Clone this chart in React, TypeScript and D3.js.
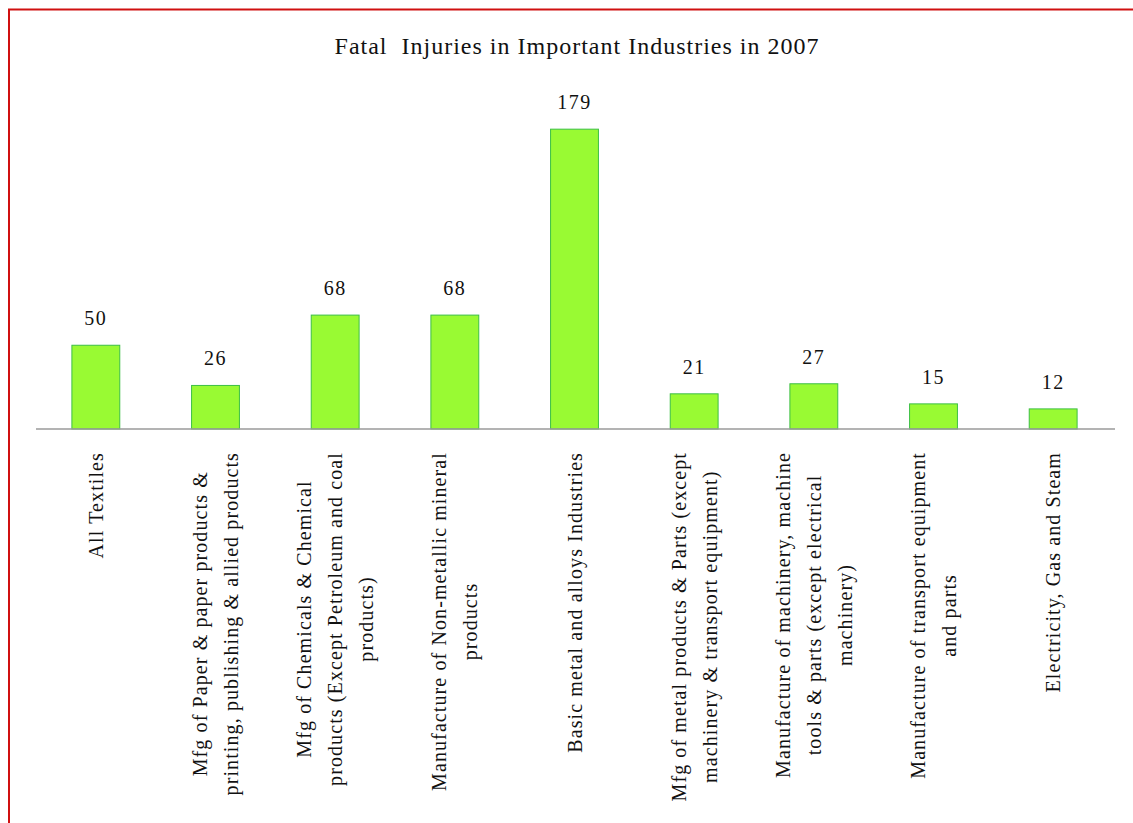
import * as d3 from 'd3'
import { useEffect, useRef } from 'react'

const categories: string[][] = [
    ['All Textiles'],
    ['Mfg of Paper & paper products &', 'printing, publishing & allied products'],
    ['Mfg of Chemicals & Chemical', 'products (Except Petroleum and coal', 'products)'],
    ['Manufacture of Non-metallic mineral', 'products'],
    ['Basic metal and alloys Industries'],
    ['Mfg of metal products & Parts (except', 'machinery & transport equipment)'],
    ['Manufacture of machinery, machine', 'tools & parts (except electrical', 'machinery)'],
    ['Manufacture of transport equipment', 'and parts'],
    ['Electricity, Gas and Steam'],
]
const fatalities: number[] = [50, 26, 68, 68, 179, 21, 27, 15, 12]
const title = 'Fatal  Injuries in Important Industries in 2007'

const W = 1133
const H = 823
const baseY = 429
const font = '"Liberation Serif", "Times New Roman", serif'

export default function App() {
    const svgRef = useRef<SVGSVGElement>(null)

    useEffect(() => {
        const svg = d3.select(svgRef.current)
        svg.selectAll('*').remove()

        const ids = categories.map((_, i) => String(i))

        const xScale = d3.scaleBand<string>()
            .domain(ids)
            .range([36, 1113])
            .paddingInner(0.6)
            .paddingOuter(0.3)

        const yScale = d3.scaleLinear()
            .domain([0, 200])
            .range([baseY, 94])

        // red frame lines on top and left
        svg.append('line')
            .attr('x1', 8).attr('y1', 9.5).attr('x2', W).attr('y2', 9.5)
            .attr('stroke', '#d01010').attr('stroke-width', 2)
        svg.append('line')
            .attr('x1', 9).attr('y1', 9).attr('x2', 9).attr('y2', H)
            .attr('stroke', '#d01010').attr('stroke-width', 2)

        svg.append('text')
            .attr('x', 577)
            .attr('y', 54)
            .attr('text-anchor', 'middle')
            .style('font-family', font)
            .style('font-size', '24px')
            .style('letter-spacing', '1px')
            .attr('fill', '#111')
            .style('white-space', 'pre')
            .text(title)

        svg.selectAll('.bar')
            .data(fatalities)
            .join('rect')
            .attr('class', 'bar')
            .attr('x', (_, i) => xScale(ids[i]) as number)
            .attr('y', d => yScale(d))
            .attr('width', xScale.bandwidth())
            .attr('height', d => baseY - yScale(d))
            .attr('fill', '#99fa33')
            .attr('stroke', '#3cbf45')
            .attr('stroke-width', 1)

        svg.append('line')
            .attr('x1', 36).attr('x2', 1115)
            .attr('y1', baseY).attr('y2', baseY)
            .attr('stroke', '#9a9a9a')
            .attr('stroke-width', 1.5)

        svg.selectAll('.val')
            .data(fatalities)
            .join('text')
            .attr('class', 'val')
            .attr('x', (_, i) => (xScale(ids[i]) as number) + xScale.bandwidth() / 2)
            .attr('y', d => yScale(d) - 20)
            .attr('text-anchor', 'middle')
            .style('font-family', font)
            .style('font-size', '20px')
            .style('letter-spacing', '1.5px')
            .attr('fill', '#111')
            .text(d => d)

        const lineGap = 31
        const labelTop = 452
        categories.forEach((lines, i) => {
            const cx = (xScale(ids[i]) as number) + xScale.bandwidth() / 2
            const g = svg.append('g')
            const texts = lines.map(l => g.append('text')
                .style('font-family', font)
                .style('font-size', '20px')
                .style('letter-spacing', '1.1px')
                .attr('fill', '#111')
                .attr('text-anchor', 'middle')
                .attr('dominant-baseline', 'central')
                .text(l))
            const maxLen = d3.max(texts, t => (t.node() as SVGTextElement).getComputedTextLength()) || 0
            const cy = labelTop + maxLen / 2
            texts.forEach((t, j) => {
                const x = cx + (j - (lines.length - 1) / 2) * lineGap
                t.attr('transform', `translate(${x},${cy}) rotate(-90)`)
            })
        })
    }, [])

    return (
        <svg ref={svgRef} width={W} height={H}
            style={{ position: 'absolute', left: 0, top: 0, background: '#fff' }} />
    )
}
